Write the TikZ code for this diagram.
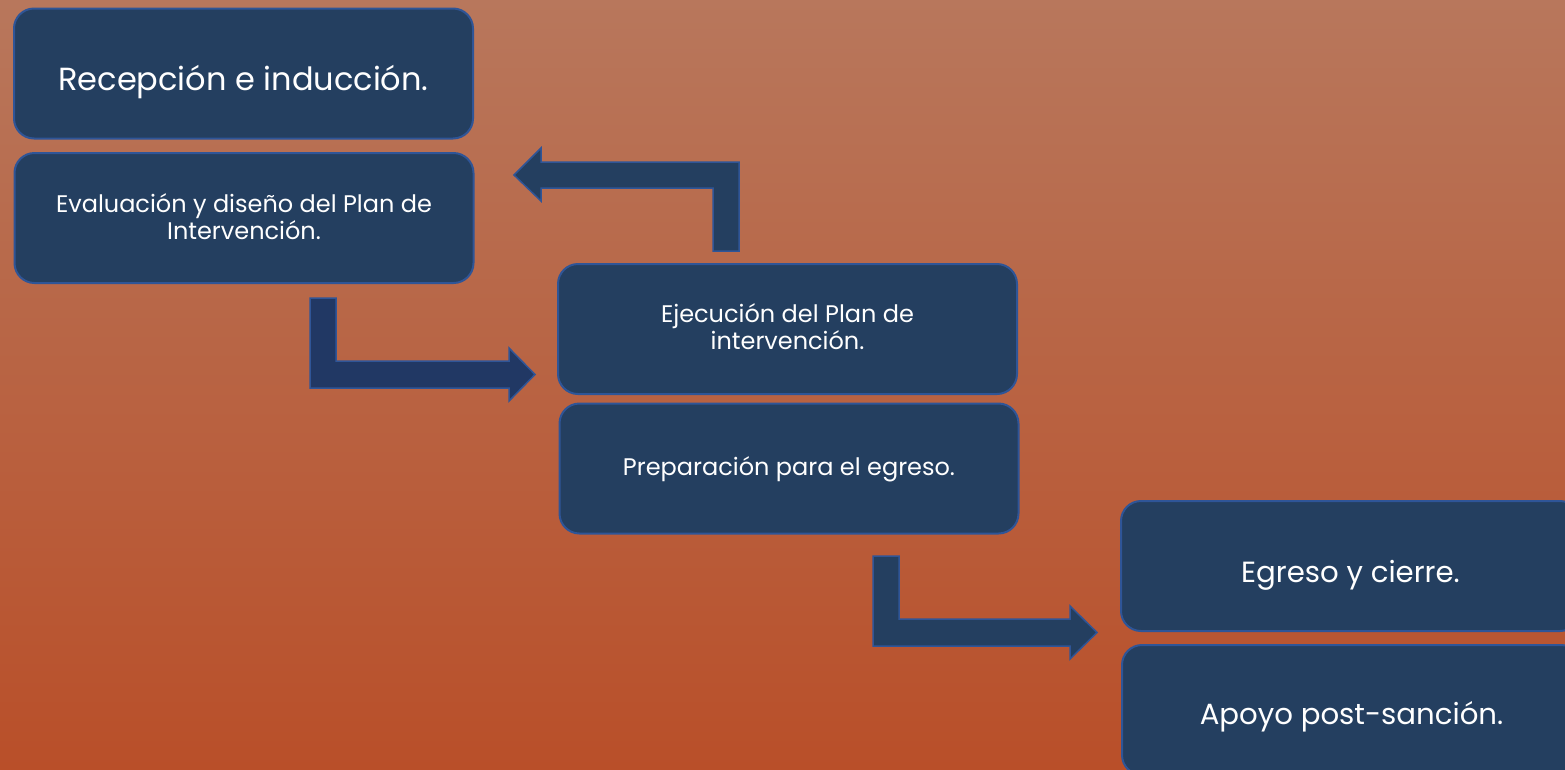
\documentclass[tikz,border=0pt]{standalone}
\usepackage{fontspec}
\setmainfont{Poppins}
\definecolor{boxfill}{HTML}{243F60}
\definecolor{boxline}{HTML}{2F5597}
\definecolor{arrowfill}{HTML}{243F60}
\definecolor{arrowfillb}{HTML}{213864}
\definecolor{bgtop}{HTML}{B8775C}
\definecolor{bgbot}{HTML}{B94F29}
\begin{document}
\begin{tikzpicture}[x=1pt,y=-1pt,
  stage/.style={draw=boxline, line width=2pt, fill=boxfill, rounded corners=20pt,
    minimum width=459pt, minimum height=130pt, text=white, align=center, inner sep=0pt},
  bigtext/.style={font=\fontsize{32}{38}\selectfont},
  midtext/.style={font=\fontsize{29.2}{34}\selectfont},
  smalltext/.style={font=\fontsize{24}{26.5}\selectfont},
  blockarrow/.style={fill=arrowfill, draw=boxline, line width=1.5pt, line join=miter}]
\clip (0,0) rectangle (1565,769);
\shade[top color=bgtop, bottom color=bgbot] (0,0) rectangle (1565,769);

\node[stage, bigtext, text height=33pt, text depth=0pt] (recep) at (243.5,73.5) {Recepción e inducción.};
\node[stage, smalltext, text height=42pt, text depth=0pt] (eval) at (244,218) {Evaluación y diseño del Plan de\\Intervención.};
\node[stage, smalltext, text height=40pt, text depth=0pt] (ejec) at (787.5,329) {Ejecución del Plan de\\intervención.};
\node[stage, smalltext, text height=13pt, text depth=0pt] (prep) at (789,468.5) {Preparación para el egreso.};
\node[stage, midtext, text height=32pt, text depth=0pt] (egreso) at (1350.5,566) {Egreso y cierre.};
\node[stage, midtext, text height=28pt, text depth=0pt] (apoyo) at (1351.5,710) {Apoyo post-sanción.};

% bent block arrows
\draw[blockarrow] (739,251) -- (739,162) -- (541,162) -- (541,148) -- (514,175)
  -- (541,201) -- (541,188) -- (713,188) -- (713,251) -- cycle;
\draw[blockarrow, fill=arrowfillb] (310,298) -- (336,298) -- (336,361) -- (509,361) -- (509,348)
  -- (535,374.5) -- (509,401) -- (509,388) -- (310,388) -- cycle;
\draw[blockarrow] (873,556) -- (899,556) -- (899,619) -- (1070,619) -- (1070,606)
  -- (1097,632.5) -- (1070,659) -- (1070,646) -- (873,646) -- cycle;
\end{tikzpicture}
\end{document}
